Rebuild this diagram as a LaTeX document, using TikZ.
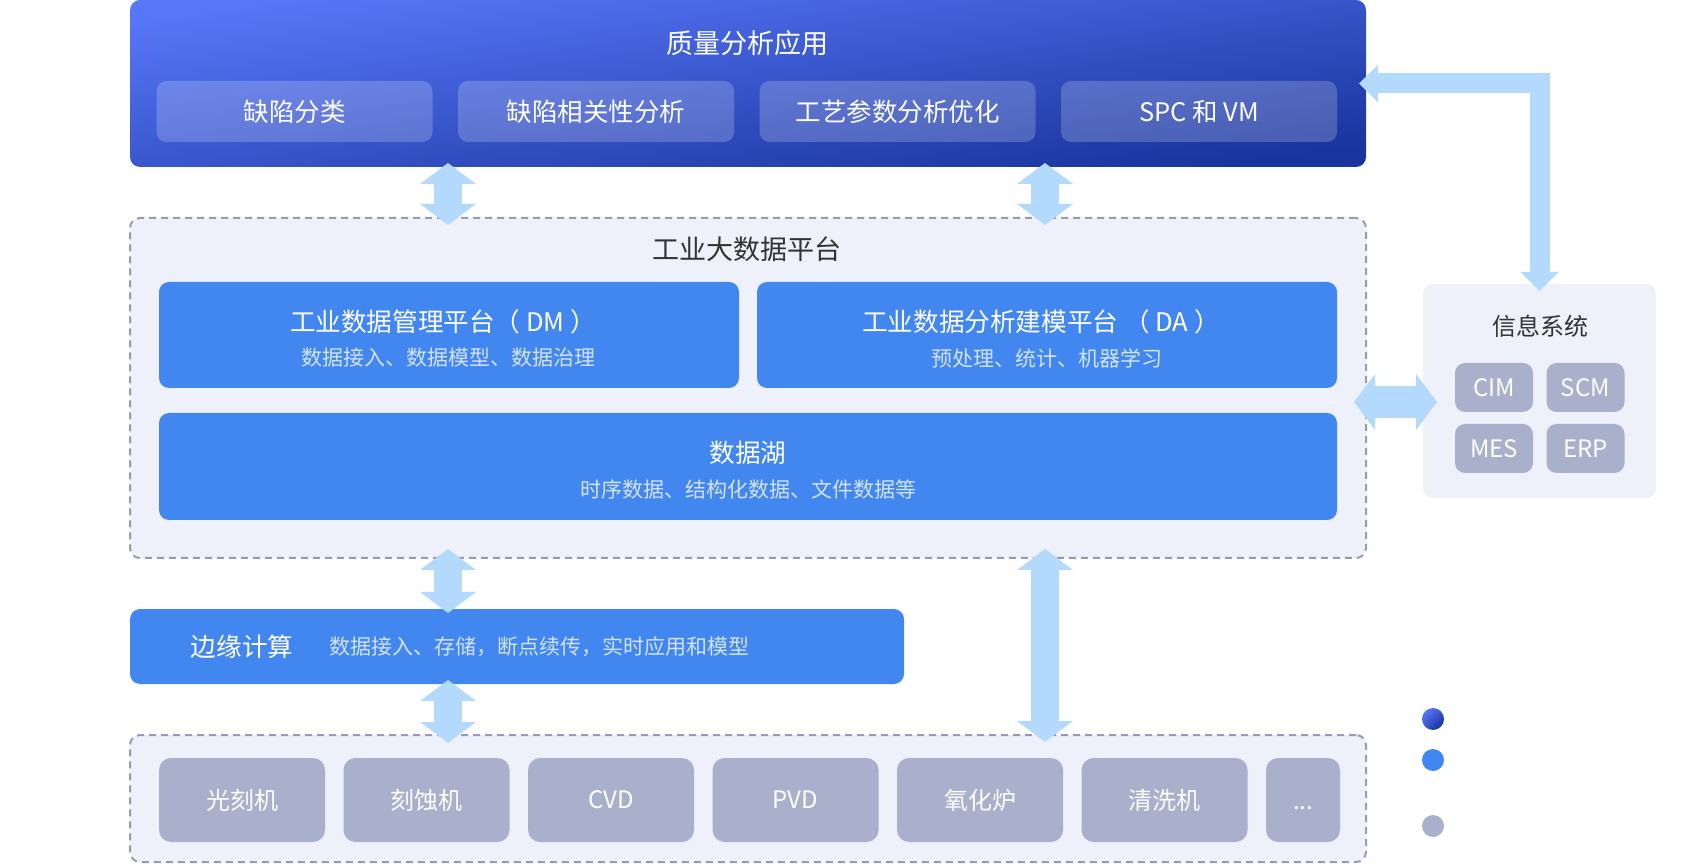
\documentclass[tikz,border=0pt]{standalone}
\usepackage{fontspec}
\setmainfont{Noto Sans CJK SC}
\usetikzlibrary{arrows.meta}

\definecolor{appTop}{HTML}{5777F9}
\definecolor{appBottom}{HTML}{19349C}
\definecolor{mainBlue}{HTML}{4287F0}
\definecolor{subGray}{HTML}{A9B0CB}
\definecolor{panelFill}{HTML}{EEF0FA}
\definecolor{dashLine}{HTML}{9A97B7}
\definecolor{flowBlue}{HTML}{B3DAFD}
\definecolor{subText}{HTML}{D4E3FC}
\definecolor{darkText}{HTML}{333333}

\begin{document}
\begin{tikzpicture}[x=0.5pt,y=-0.5pt,
    every node/.style={inner sep=0pt, outer sep=0pt},
    appPanel/.style={rounded corners=5pt, top color=appTop, bottom color=appBottom,
        shading angle=8, minimum width=618pt, minimum height=83.5pt},
    appItem/.style={rounded corners=5pt, fill=white, fill opacity=0.2, text opacity=1,
        text=white, minimum width=138pt, minimum height=30.5pt,
        font=\fontsize{12.75}{15}\selectfont},
    dashPanel/.style={rounded corners=5pt, fill=panelFill, draw=dashLine,
        line width=1pt, dash pattern=on 3.5pt off 2.5pt},
    blueBox/.style={rounded corners=5pt, fill=mainBlue},
    layerTitle/.style={text=darkText, font=\fontsize{13.5}{16}\selectfont},
    boxTitle/.style={text=white, font=\fontsize{12.8}{15}\selectfont},
    boxSub/.style={text=subText, font=\fontsize{10.5}{12}\selectfont},
    devItem/.style={rounded corners=6pt, fill=subGray, text=white,
        minimum width=83pt, minimum height=42pt, font=\fontsize{12}{14}\selectfont},
    sysItem/.style={rounded corners=5pt, fill=subGray, text=white,
        minimum width=39pt, minimum height=24.5pt, font=\fontsize{12}{14}\selectfont},
    legendDot/.style={circle, minimum size=11pt},
    flow/.style n args={3}{flowBlue, line width=#1, line join=miter,
        >={Triangle[width=#2, length=#3, line width=0pt]}, <->}]

\useasboundingbox (0,0) rectangle (1686,865);

% ==== 顶部：质量分析应用 ====
\node[appPanel] (appBox) at (748,83.5) {};
\node[text=white, font=\fontsize{13.5}{16}\selectfont] (appTitle) at (747,43) {质量分析应用};
\node[appItem] (appA) at (294.5,111.5) {缺陷分类};
\node[appItem] (appB) at (596,111.5) {缺陷相关性分析};
\node[appItem] (appC) at (897.5,111.5) {工艺参数分析优化};
\node[appItem] (appD) at (1199,111.5) {SPC 和 VM};

% ==== 中间：工业大数据平台 ====
\node[dashPanel, minimum width=618pt, minimum height=170pt] (platBox) at (748,388) {};
\node[layerTitle] (platTitle) at (747,249) {工业大数据平台};

\node[blueBox, minimum width=290pt, minimum height=53pt] (dmBox) at (449,335) {};
\node[boxTitle] (dmTitle) at (443,322) {工业数据管理平台（ DM ）};
\node[boxSub] (dmSub) at (448,358) {数据接入、数据模型、数据治理};

\node[blueBox, minimum width=290pt, minimum height=53pt] (daBox) at (1047,335) {};
\node[boxTitle] (daTitle) at (1041,322) {工业数据分析建模平台 （ DA ）};
\node[boxSub] (daSub) at (1047,358) {预处理、统计、机器学习};

\node[blueBox, minimum width=589pt, minimum height=53.5pt] (lakeBox) at (748,466.5) {};
\node[boxTitle] (lakeTitle) at (748,453) {数据湖};
\node[boxSub] (lakeSub) at (748,489) {时序数据、结构化数据、文件数据等};

% ==== 边缘计算 ====
\node[blueBox, minimum width=387pt, minimum height=37.5pt] (edgeBox) at (517,646.5) {};
\node[boxTitle] (edgeTitle) at (242,647) {边缘计算};
\node[boxSub, anchor=west] (edgeSub) at (329,647) {数据接入、存储，断点续传，实时应用和模型};

% ==== 底部：设备 ====
\node[dashPanel, minimum width=618pt, minimum height=63.5pt] (devBox) at (748,798.5) {};
\node[devItem] (devA) at (242,800) {光刻机};
\node[devItem] (devB) at (426.5,800) {刻蚀机};
\node[devItem] (devC) at (611,800) {CVD};
\node[devItem] (devD) at (795.5,800) {PVD};
\node[devItem] (devE) at (980,800) {氧化炉};
\node[devItem] (devF) at (1164.5,800) {清洗机};
\node[devItem, minimum width=37pt] (devG) at (1303,800) {\vphantom{光}...};

% ==== 右侧：信息系统 ====
\node[rounded corners=5pt, fill=panelFill, minimum width=116.5pt, minimum height=107pt] (infoBox) at (1539.5,391) {};
\node[text=darkText, font=\fontsize{12}{14}\selectfont] (infoTitle) at (1540,326) {信息系统};
\node[sysItem] (sysA) at (1494,387.5) {CIM};
\node[sysItem] (sysB) at (1585.5,387.5) {SCM};
\node[sysItem] (sysC) at (1494,448.5) {MES};
\node[sysItem] (sysD) at (1585.5,448.5) {ERP};

% 图例圆点
\node[legendDot, top color=appTop, bottom color=appBottom, shading angle=45] (dotA) at (1433,719) {};
\node[legendDot, fill=mainBlue] (dotB) at (1433,760) {};
\node[legendDot, fill=subGray] (dotC) at (1433,826) {};

% ==== 箭头 ====
\coordinate (colA) at (448,0);
\coordinate (colB) at (1045,0);

\draw[flow={14pt}{28pt}{10.5pt}, shorten <=-2pt, shorten >=-3.5pt]
  (appBox.south -| colA) -- (platBox.north -| colA);
\draw[flow={14pt}{28pt}{10.5pt}, shorten <=-2pt, shorten >=-3.5pt]
  (appBox.south -| colB) -- (platBox.north -| colB);
\draw[flow={14pt}{28pt}{10.5pt}, shorten <=-4.5pt, shorten >=-2pt]
  (platBox.south -| colA) -- (edgeBox.north -| colA);
\draw[flow={14pt}{28pt}{10.5pt}, shorten <=-2pt, shorten >=-4pt]
  (edgeBox.south -| colA) -- (devBox.north -| colA);
\draw[flow={14pt}{28pt}{10.5pt}, shorten <=-4.5pt, shorten >=-3.5pt]
  (platBox.south -| colB) -- (devBox.north -| colB);

% 平台 <-> 信息系统
\draw[flow={16pt}{28pt}{10.5pt}, shorten <=-6pt, shorten >=-7pt]
  ([yshift=-7pt]platBox.east) -- ([yshift=-7pt]platBox.east -| infoBox.west);

% 信息系统 -> 质量分析应用（折线）
\draw[flow={10pt}{19pt}{9.5pt}, shorten <=-3.5pt, shorten >=-3.5pt]
  (appBox.east) -| (infoBox.north);

\end{tikzpicture}
\end{document}
